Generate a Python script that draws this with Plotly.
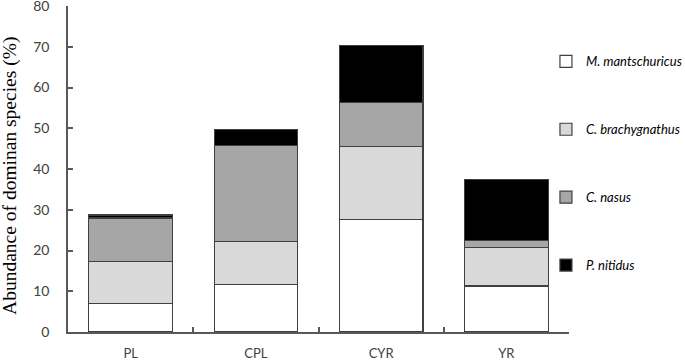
import plotly.graph_objects as go

categories = ["PL", "CPL", "CYR", "YR"]
species = ["M. mantschuricus", "C. brachygnathus", "C. nasus", "P. nitidus"]
m_mantschuricus = [6.9, 11.7, 27.7, 11.3]
c_brachygnathus = [10.4, 10.5, 17.9, 9.5]
c_nasus = [10.7, 23.5, 10.8, 1.7]
p_nitidus = [0.7, 4.0, 13.9, 15.0]
series = [m_mantschuricus, c_brachygnathus, c_nasus, p_nitidus]
colors = ["#ffffff", "#d9d9d9", "#a6a6a6", "#000000"]
y_ticks = [0, 10, 20, 30, 40, 50, 60, 70, 80]
y_title = "Abundance of dominan species (%)"

fig = go.Figure()
for name, vals, col in zip(species, series, colors):
    fig.add_trace(go.Bar(
        x=categories, y=vals, name=name, legendgroup=name,
        marker=dict(color=col, line=dict(color="#404040", width=1.2)),
    ))

fig.add_annotation(
    text=y_title, textangle=-90, showarrow=False,
    xref="paper", yref="paper", x=-0.116, y=0.4785,
    xanchor="center", yanchor="middle",
    font=dict(family="Liberation Serif", size=19.5, color="#000000"),
)

fig.update_layout(
    width=685, height=361,
    barmode="stack", bargap=0.333,
    plot_bgcolor="white", paper_bgcolor="white",
    margin=dict(l=68, r=116, t=6, b=29, autoexpand=False),
    font=dict(family="Lato", color="#404040", size=13),
    legend=dict(
        x=0.954, xanchor="left", y=0.876, yanchor="top",
        traceorder="grouped", tracegroupgap=48,
        font=dict(family="Lato", size=13, color="#000000", style="italic"),
        itemwidth=30,
        bgcolor="rgba(0,0,0,0)",
    ),
    xaxis=dict(
        showline=True, linecolor="#595959", linewidth=1.5,
        ticks="inside", ticklen=5, tickcolor="#595959", tickwidth=1.5,
        tickson="boundaries", ticklabelstandoff=9, automargin=False,
        tickfont=dict(family="Lato", size=13, color="#404040"),
    ),
    yaxis=dict(
        range=[0, 80], tickvals=y_ticks,
        showline=True, linecolor="#595959", linewidth=1.5,
        ticks="inside", ticklen=5, tickcolor="#595959", tickwidth=1.5,
        showgrid=False, zeroline=False, ticklabelstandoff=14,
        ticklabeloverflow="allow", automargin=False,
        tickfont=dict(family="Lato", size=14, color="#404040"),
    ),
)

fig.write_html("out.html", config={"displayModeBar": False},
               post_script="document.body.style.margin='0';")
